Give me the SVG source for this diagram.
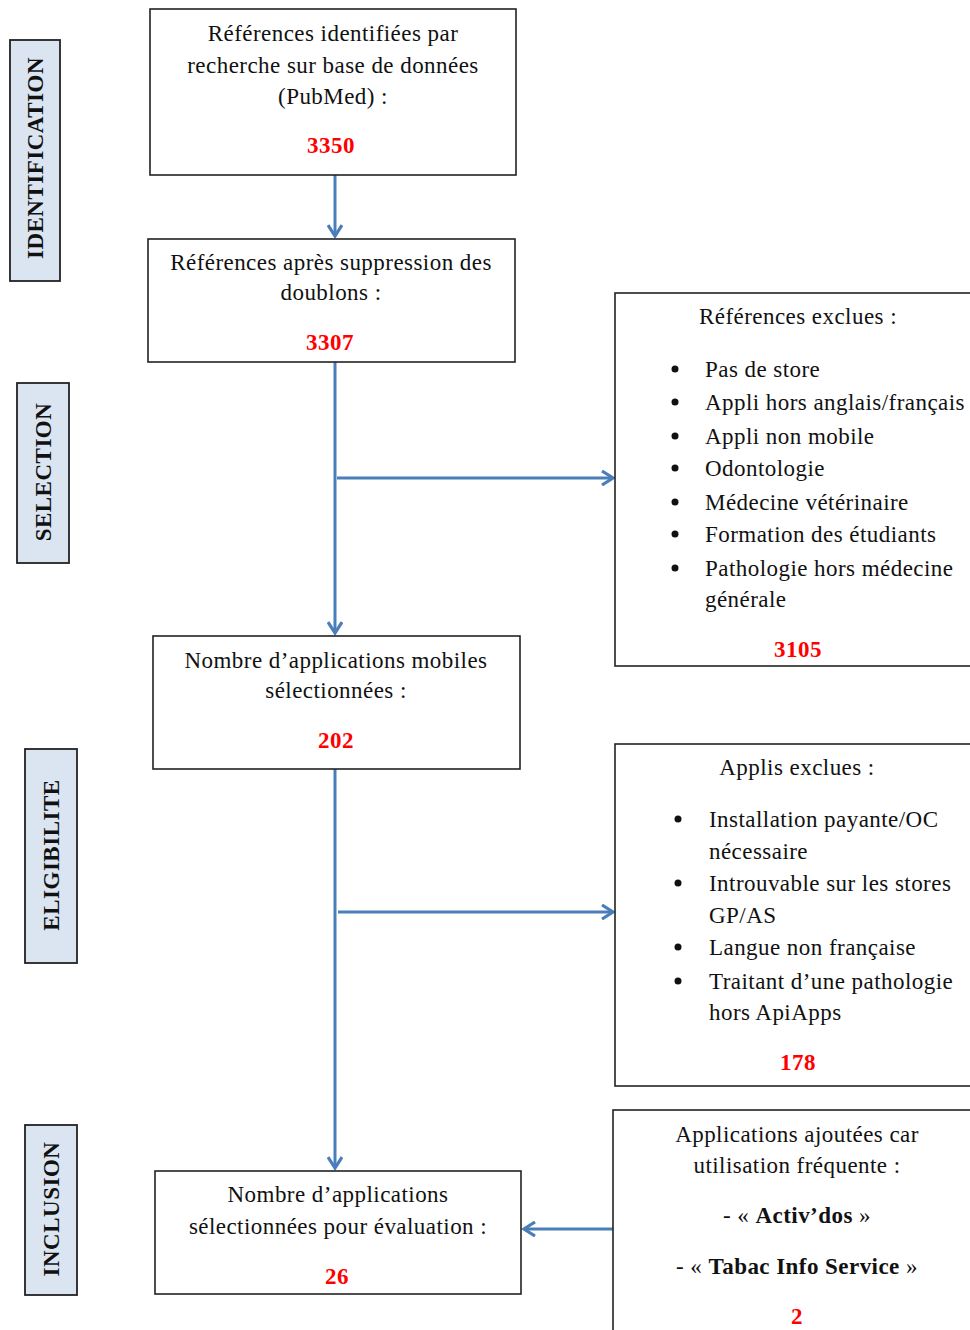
<svg xmlns="http://www.w3.org/2000/svg" width="970" height="1330" viewBox="0 0 970 1330">
<style>
.box{fill:#fff;stroke:#222;stroke-width:1.6}
.side{fill:#dbe5f1;stroke:#222;stroke-width:1.8}
.t{font-family:"Liberation Serif","Times New Roman",serif;font-size:23px;letter-spacing:0.45px;fill:#111}
.c{text-anchor:middle}
.n{font-family:"Liberation Serif","Times New Roman",serif;font-size:23px;letter-spacing:0.5px;font-weight:bold;fill:#ff0000;text-anchor:middle}
.s{font-family:"Liberation Serif","Times New Roman",serif;font-size:23px;letter-spacing:0.5px;font-weight:bold;fill:#111;text-anchor:middle}
.b{font-weight:bold}
.con{stroke:#4a7ebb;stroke-width:3;fill:none}
</style>
<defs>
<marker id="ahb" markerWidth="16" markerHeight="16" refX="13" refY="8" orient="auto" markerUnits="userSpaceOnUse" viewBox="0 0 16 16">
<path d="M2,1 L13,8 L2,15" fill="none" stroke="#4a7ebb" stroke-width="3.2"/>
</marker>
</defs>

<g id="side-identification"><rect class="side" x="10" y="40" width="50" height="241"/><text class="s" transform="translate(43,158) rotate(-90)">IDENTIFICATION</text></g>
<g id="side-selection"><rect class="side" x="17" y="383" width="52" height="180"/><text class="s" transform="translate(51,472) rotate(-90)">SELECTION</text></g>
<g id="side-eligibilite"><rect class="side" x="25" y="749" width="52" height="214"/><text class="s" transform="translate(59,855) rotate(-90)">ELIGIBILITE</text></g>
<g id="side-inclusion"><rect class="side" x="25" y="1125" width="52" height="170"/><text class="s" transform="translate(59,1209) rotate(-90)">INCLUSION</text></g>

<g id="connectors">
<line class="con" x1="335" y1="175" x2="335" y2="236" marker-end="url(#ahb)"/>
<line class="con" x1="335" y1="362" x2="335" y2="633" marker-end="url(#ahb)"/>
<line class="con" x1="337" y1="478" x2="613" y2="478" marker-end="url(#ahb)"/>
<line class="con" x1="335" y1="769" x2="335" y2="1168" marker-end="url(#ahb)"/>
<line class="con" x1="338" y1="912" x2="613" y2="912" marker-end="url(#ahb)"/>
<line class="con" x1="613" y1="1229" x2="524" y2="1229" marker-end="url(#ahb)"/>
</g>

<g id="box-identifiees"><rect class="box" x="150" y="9" width="366" height="166"/>
<text class="t c" x="333" y="41">Références identifiées par</text>
<text class="t c" x="333" y="73">recherche sur base de données</text>
<text class="t c" x="333" y="104">(PubMed) :</text>
<text class="n" x="331" y="153">3350</text></g>

<g id="box-doublons"><rect class="box" x="148" y="239" width="367" height="123"/>
<text class="t c" x="331" y="270">Références après suppression des</text>
<text class="t c" x="331" y="300">doublons :</text>
<text class="n" x="330" y="350">3307</text></g>

<g id="box-selectionnees"><rect class="box" x="153" y="636" width="367" height="133"/>
<text class="t c" x="336" y="668">Nombre d’applications mobiles</text>
<text class="t c" x="336" y="698">sélectionnées :</text>
<text class="n" x="336" y="748">202</text></g>

<g id="box-evaluation"><rect class="box" x="155" y="1171" width="366" height="123"/>
<text class="t c" x="338" y="1202">Nombre d’applications</text>
<text class="t c" x="338" y="1234">sélectionnées pour évaluation :</text>
<text class="n" x="337" y="1284">26</text></g>

<g id="box-refs-exclues"><rect class="box" x="615" y="293" width="362" height="373"/>
<text class="t c" x="798" y="324">Références exclues :</text>
<g class="t">
<circle cx="675" cy="369" r="3.5" fill="#111"/><text x="705" y="377">Pas de store</text>
<circle cx="675" cy="402" r="3.5" fill="#111"/><text x="705" y="410">Appli hors anglais/français</text>
<circle cx="675" cy="436" r="3.5" fill="#111"/><text x="705" y="444">Appli non mobile</text>
<circle cx="675" cy="468" r="3.5" fill="#111"/><text x="705" y="476">Odontologie</text>
<circle cx="675" cy="502" r="3.5" fill="#111"/><text x="705" y="510">Médecine vétérinaire</text>
<circle cx="675" cy="534" r="3.5" fill="#111"/><text x="705" y="542">Formation des étudiants</text>
<circle cx="675" cy="568" r="3.5" fill="#111"/><text x="705" y="576">Pathologie hors médecine</text>
<text x="705" y="607">générale</text>
</g>
<text class="n" x="798" y="657">3105</text></g>

<g id="box-applis-exclues"><rect class="box" x="615" y="744" width="362" height="342"/>
<text class="t c" x="797" y="775">Applis exclues :</text>
<g class="t">
<circle cx="678" cy="819" r="3.5" fill="#111"/><text x="709" y="827">Installation payante/OC</text>
<text x="709" y="859">nécessaire</text>
<circle cx="678" cy="883" r="3.5" fill="#111"/><text x="709" y="891">Introuvable sur les stores</text>
<text x="709" y="923">GP/AS</text>
<circle cx="678" cy="947" r="3.5" fill="#111"/><text x="709" y="955">Langue non française</text>
<circle cx="678" cy="981" r="3.5" fill="#111"/><text x="709" y="989">Traitant d’une pathologie</text>
<text x="709" y="1020">hors ApiApps</text>
</g>
<text class="n" x="798" y="1070">178</text></g>

<g id="box-ajoutees"><rect class="box" x="613" y="1110" width="364" height="230"/>
<text class="t c" x="797" y="1142">Applications ajoutées car</text>
<text class="t c" x="797" y="1173">utilisation fréquente :</text>
<text class="t c" x="797" y="1223">- « <tspan class="b">Activ’dos</tspan> »</text>
<text class="t c" x="797" y="1274">- « <tspan class="b">Tabac Info Service</tspan> »</text>
<text class="n" x="797" y="1324">2</text></g>
</svg>
